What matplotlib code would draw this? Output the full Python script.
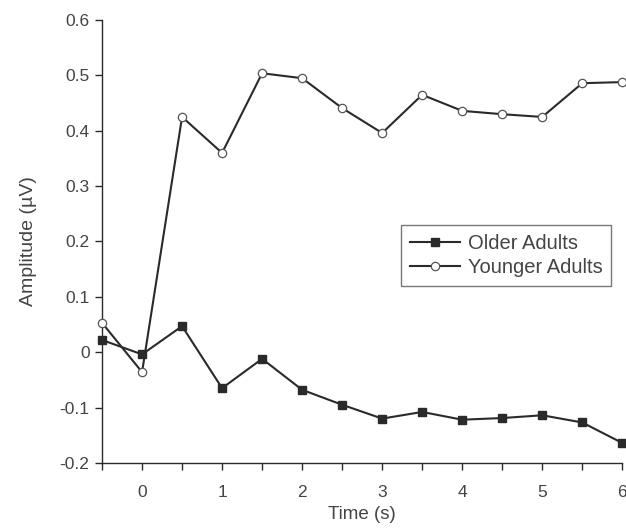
import numpy as np
import matplotlib.pyplot as plt

plt.rcParams['font.family'] = ['Liberation Sans', 'DejaVu Sans']

time_s = [-0.5, 0, 0.5, 1, 1.5, 2, 2.5, 3, 3.5, 4, 4.5, 5, 5.5, 6]
older = [0.022, -0.004, 0.047, -0.065, -0.012, -0.068, -0.095, -0.120,
         -0.108, -0.122, -0.119, -0.114, -0.127, -0.164]
younger = [0.053, -0.036, 0.425, 0.360, 0.504, 0.495, 0.441, 0.396,
           0.465, 0.436, 0.430, 0.425, 0.486, 0.488]

y_ticks = [-0.2, -0.1, 0, 0.1, 0.2, 0.3, 0.4, 0.5, 0.6]
y_labels = ['-0.2', '-0.1', '0', '0.1', '0.2', '0.3', '0.4', '0.5', '0.6']
x_ticks = [0, 1, 2, 3, 4, 5, 6]
x_minor = [-0.5, 0.5, 1.5, 2.5, 3.5, 4.5, 5.5]

ink = '#2a2a2a'
text_c = '#444444'

fig = plt.figure(figsize=(6.26, 5.29), dpi=100)
ax = fig.add_axes([0.163, 0.125, 0.831, 0.837])

ax.plot(time_s, older, color=ink, lw=1.5, marker='s', ms=6,
        mfc=ink, mec=ink, label='Older Adults', clip_on=False, zorder=3)
ax.plot(time_s, younger, color=ink, lw=1.5, marker='o', ms=6,
        mfc='white', mec='#555555', mew=0.9, label='Younger Adults',
        clip_on=False, zorder=3)

ax.set_xlim(-0.5, 6)
ax.set_ylim(-0.2, 0.6)
ax.set_yticks(y_ticks)
ax.set_yticklabels(y_labels)
ax.set_xticks(x_ticks)
ax.set_xticks(x_minor, minor=True)

for s in ['top', 'right']:
    ax.spines[s].set_visible(False)
for s in ['left', 'bottom']:
    ax.spines[s].set_color(ink)
    ax.spines[s].set_linewidth(1.0)

ax.tick_params(which='both', direction='out', length=5, width=1,
               color=ink, labelcolor=text_c, labelsize=12.5)
ax.tick_params(axis='x', pad=11)
ax.tick_params(axis='y', pad=4)

ax.set_xlabel('Time (s)', color=text_c, fontsize=13.5, labelpad=4)
ax.set_ylabel('Amplitude (µV)', color=text_c, fontsize=14, labelpad=16)

leg = ax.legend(loc='upper left', bbox_to_anchor=(0.575, 0.537),
                fontsize=14.5, frameon=True, fancybox=False,
                handlelength=2.5, handletextpad=0.4, borderpad=0.42,
                labelspacing=0.28, borderaxespad=0)
leg.get_frame().set_edgecolor('#555555')
leg.get_frame().set_linewidth(1.0)
for t in leg.get_texts():
    t.set_color(text_c)

fig.savefig('out.png', dpi=100)
